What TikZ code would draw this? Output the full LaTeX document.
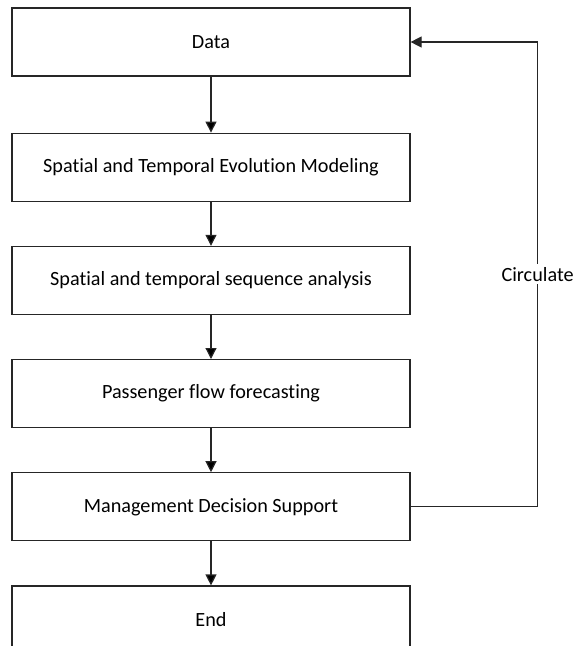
\documentclass[tikz,border=0pt]{standalone}
\usepackage{fontspec}
\setmainfont{Carlito}[Ligatures=NoCommon]
\usetikzlibrary{positioning,arrows.meta}

\begin{document}
\begin{tikzpicture}[x=1pt, y=-1pt,
  stage/.style={draw=black!85, line width=1.2pt, minimum width=398pt, minimum height=68pt,
    inner sep=0pt, font=\fontsize{20.2}{24}\selectfont},
  flow/.style={-{Triangle[length=11pt,width=11pt]}, line width=1.2pt, draw=black!85}]
  \useasboundingbox (0,0) rectangle (574,646);
  \node[stage] (data) at (211,42) {Data};
  \node[stage, below=56pt of data] (model) {Spatial and Temporal Evolution Modeling};
  \node[stage, below=44pt of model] (seq) {Spatial and temporal sequence analysis};
  \node[stage, below=44pt of seq] (fore) {Passenger flow forecasting};
  \node[stage, below=44pt of fore] (mds) {Management Decision Support};
  \node[stage, below=44pt of mds] (end) {End};
  \path[flow]
  (data) edge (model)
  (model) edge (seq)
  (seq) edge (fore)
  (fore) edge (mds)
  (mds) edge (end)
;
  \draw[flow] (mds.east) -- ++(127,0) |- node[pos=0.25, fill=white, inner sep=3pt,
    font=\fontsize{20.2}{24}\selectfont] {Circulate} (data.east);
\end{tikzpicture}
\end{document}
